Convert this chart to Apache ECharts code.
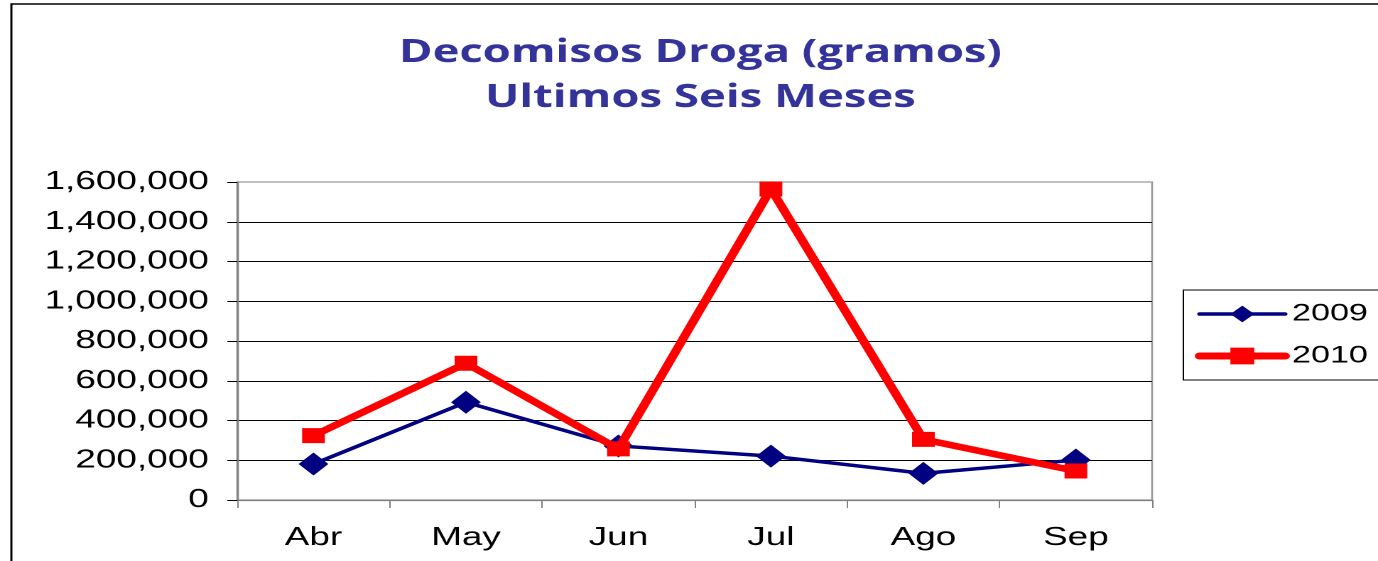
<!DOCTYPE html>
<html>
<head>
<meta charset="utf-8">
<script src="https://cdn.jsdelivr.net/npm/echarts@6/dist/echarts.min.js"></script>
<style>
    html, body { margin: 0; padding: 0; background: #fff; overflow: hidden; }
    /* the reference picture is stretched sideways, so the chart is drawn narrow and widened */
    #chart { width: 970px; height: 561px; transform: scaleX(1.4206); transform-origin: 0 0; }
</style>
</head>
<body>
<div id="chart"></div>
<script>
'use strict';

var months = ['Abr', 'May', 'Jun', 'Jul', 'Ago', 'Sep'];
var values2009 = [181000, 492000, 272000, 221000, 134000, 201000];
var values2010 = [324000, 688000, 257000, 1565000, 305000, 146000];
var titleLines = ['Decomisos Droga (gramos)', 'Ultimos Seis Meses'];

(function (echarts) {
    var chart = echarts.init(document.getElementById('chart'), null, {renderer: 'canvas', devicePixelRatio: 2});

    var titleFont = 'bold 32px "Open Sans", sans-serif';
    var labelFont = 'Liberation Sans, Arial, sans-serif';

    chart.setOption({
        animation: false,
        graphic: [
            {   // outer chart frame (only left and top show)
                type: 'rect',
                shape: {x: 8, y: 4, width: 1200, height: 800},
                style: {fill: 'none', stroke: '#000', lineWidth: 1.5},
                silent: true
            },
            {
                type: 'text',
                style: {text: titleLines[0], x: 493, y: 53, font: titleFont, fill: '#333399',
                    textAlign: 'center', textVerticalAlign: 'middle'}
            },
            {
                type: 'text',
                style: {text: titleLines[1], x: 493, y: 98, font: titleFont, fill: '#333399',
                    textAlign: 'center', textVerticalAlign: 'middle'}
            }
        ],
        grid: {
            left: 167,
            right: 159,
            top: 182,
            bottom: 61,
            show: true,
            borderColor: '#999',
            borderWidth: 1.3
        },
        legend: {
            orient: 'vertical',
            left: 833,
            top: 290,
            padding: [12, 8, 12, 8],
            borderColor: '#000',
            borderWidth: 1,
            itemWidth: 60,
            itemHeight: 21,
            itemGap: 18,
            textStyle: {fontFamily: labelFont, fontSize: 24, color: '#000', lineHeight: 21},
            data: [
                {name: '2009', lineStyle: {width: 3.5, cap: 'round'}},
                {name: '2010', lineStyle: {width: 7, cap: 'round'}}
            ]
        },
        xAxis: {
            type: 'category',
            data: months,
            boundaryGap: true,
            axisLine: {lineStyle: {color: '#808080', width: 1.3}},
            axisTick: {show: true, length: 8, lineStyle: {color: '#808080', width: 1}},
            axisLabel: {fontFamily: labelFont, fontSize: 26, color: '#000', margin: 25}
        },
        yAxis: {
            type: 'value',
            min: 0,
            max: 1600000,
            interval: 200000,
            axisLine: {show: true, lineStyle: {color: '#808080', width: 1.3}},
            axisTick: {show: true, length: 7, lineStyle: {color: '#000', width: 1}},
            axisLabel: {
                fontFamily: labelFont, fontSize: 26, color: '#000', margin: 20,
                formatter: function (v) { return v.toLocaleString('en-US'); }
            },
            splitLine: {show: true, showMinLine: false, showMaxLine: false, lineStyle: {color: '#000', width: 1}}
        },
        series: [
            {
                name: '2009',
                type: 'line',
                data: values2009,
                symbol: 'diamond',
                symbolSize: [21, 23],
                lineStyle: {color: '#000080', width: 3.5},
                itemStyle: {color: '#000080'},
                z: 2
            },
            {
                name: '2010',
                type: 'line',
                data: values2010,
                symbol: 'rect',
                symbolSize: [16, 15],
                lineStyle: {color: '#ff0000', width: 6.5},
                itemStyle: {color: '#ff0000'},
                z: 3
            }
        ]
    });
})(echarts);
</script>
</body>
</html>
